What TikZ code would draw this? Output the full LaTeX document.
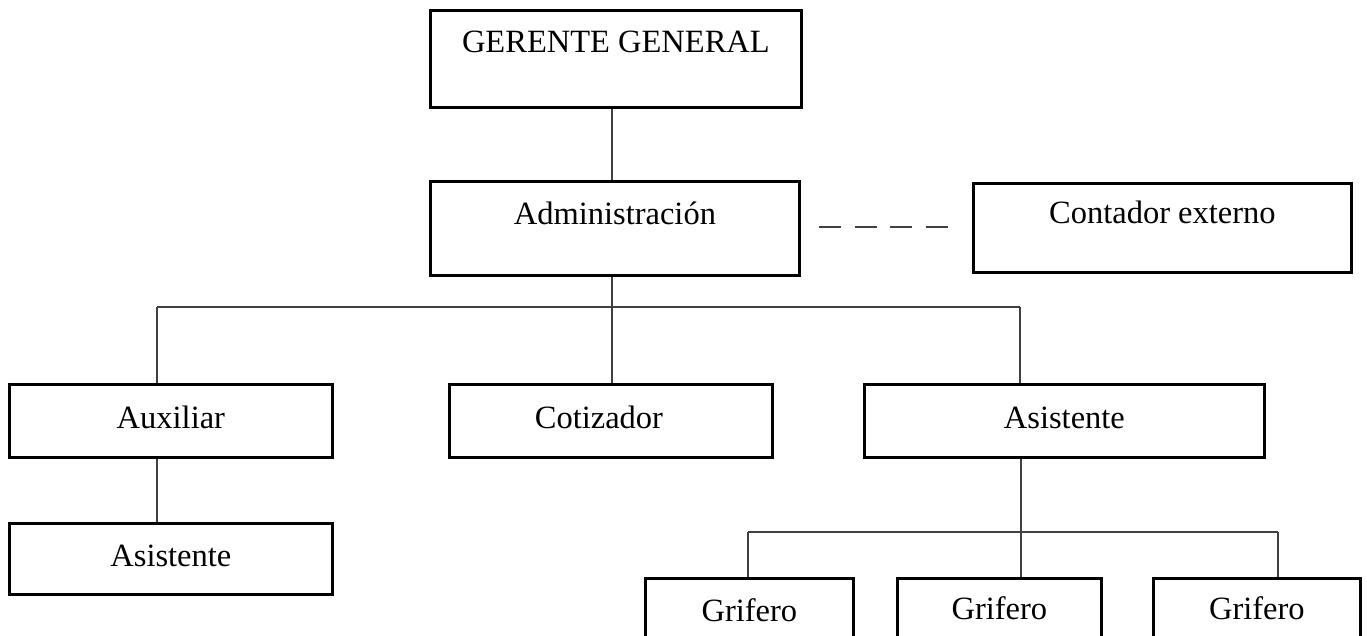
\documentclass[tikz,border=0pt]{standalone}
\usepackage{fontspec}
\setmainfont{Liberation Serif}
\begin{document}
\begin{tikzpicture}[x=1pt,y=-1pt,
  box/.style={draw=black, line width=2.8pt, anchor=north west, inner xsep=0pt, inner ysep=0pt,
    font=\fontsize{32.5}{36}\selectfont},
  conn/.style={draw=black!75, line width=1.5pt},
  dashconn/.style={draw=black!75, line width=1.5pt, dash pattern=on 22pt off 13.5pt}]
\useasboundingbox (0,0) rectangle (1367,636);
\clip (0,0) rectangle (1367,636);
% boxes
\node[box, minimum width=371pt, text height=42pt, text depth=55pt] (gg) at (429,9) {GERENTE GENERAL};
\node[box, minimum width=369pt, text height=43pt, text depth=51pt] (adm) at (429,180) {Administración};
\node[box, minimum width=378pt, text height=40pt, text depth=49pt] (cont) at (972,182) {Contador externo};
\node[box, minimum width=323pt, text height=44pt, text depth=29pt] (aux) at (8,383) {Auxiliar};
\node[box, minimum width=323pt, text height=44pt, text depth=29pt] (cot) at (448,383) {Cotizador\hspace*{24pt}};
\node[box, minimum width=400pt, text height=44pt, text depth=29pt] (asr) at (863,383) {Asistente};
\node[box, minimum width=323pt, text height=43pt, text depth=28pt] (asl) at (8,522) {Asistente};
\node[box, minimum width=208pt, text height=43pt, text depth=40pt] (g1) at (644,577) {Grifero};
\node[box, minimum width=204pt, text height=41pt, text depth=42pt] (g2) at (896,577) {Grifero};
\node[box, minimum width=207pt, text height=41pt, text depth=42pt] (g3) at (1152,577) {Grifero};
% bus coordinates
\coordinate (b0) at (612,307);
\coordinate (b1) at (157,307);
\coordinate (b3) at (1020,307);
\coordinate (s0) at (1021,532);
\coordinate (s1) at (748,532);
\coordinate (s3) at (1278,532);
\coordinate (d1) at (819,227);
\coordinate (d2) at (948,227);
% connectors
\draw[conn] (gg.south -| 612,0) -- (adm.north -| 612,0);
\draw[conn] (adm.south -| b0) -- (b0);
\draw[conn] (b1) -- (b3);
\draw[conn] (b1) -- (b1 |- aux.north);
\draw[conn] (b0) -- (b0 |- cot.north);
\draw[conn] (b3) -- (b3 |- asr.north);
\draw[conn] (aux.south -| b1) -- (asl.north -| b1);
\draw[conn] (asr.south -| s0) -- (s0);
\draw[conn] (s1) -- (s3);
\draw[conn] (s1) -- (s1 |- g1.north);
\draw[conn] (s0) -- (s0 |- g2.north);
\draw[conn] (s3) -- (s3 |- g3.north);
\draw[dashconn] (d1) -- (d2);
\end{tikzpicture}
\end{document}
